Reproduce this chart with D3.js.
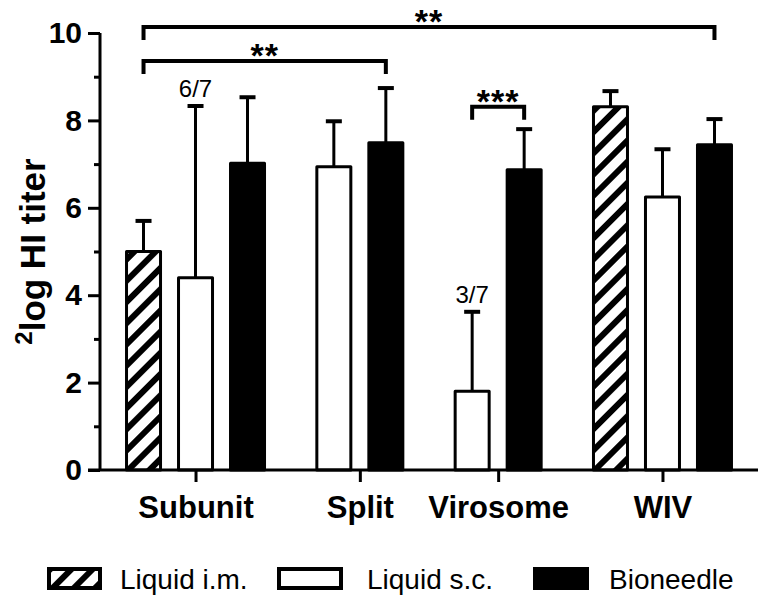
<!DOCTYPE html>
<html>
<head>
<meta charset="utf-8">
<script src="https://cdn.jsdelivr.net/npm/d3@7"></script>
<style>
  html, body { margin: 0; padding: 0; background: #fff; }
  svg { display: block; }
</style>
</head>
<body>
<svg id="chart" width="767" height="606"></svg>
<script>
// ---------------- data ----------------
const categories = ["Subunit", "Split", "Virosome", "WIV"];
const seriesNames = ["Liquid i.m.", "Liquid s.c.", "Bioneedle"];
const imMean = [5.00, null, null, 8.31];
const imSD   = [0.70, null, null, 0.36];
const scMean = [4.40, 6.94, 1.80, 6.25];
const scSD   = [3.93, 1.04, 1.82, 1.09];
const bnMean = [7.02, 7.49, 6.87, 7.44];
const bnSD   = [1.51, 1.25, 0.93, 0.59];
const yMajorTicks = [0, 2, 4, 6, 8, 10];
const yMinorTicks = [1, 3, 5, 7, 9];
const fractionLabels = [
  { cat: "Subunit", series: 1, text: "6/7" },
  { cat: "Virosome", series: 1, text: "3/7" }
];
const brackets = [
  { fromCat: "Subunit", fromSeries: 0, toCat: "WIV", toSeries: 2, y: 10.14, label: "**" },
  { fromCat: "Subunit", fromSeries: 0, toCat: "Split", toSeries: 2, y: 9.36, label: "**" },
  { fromCat: "Virosome", fromSeries: 1, toCat: "Virosome", toSeries: 2, y: 8.31, label: "***" }
];

// ---------------- layout ----------------
const FONT = "'Liberation Sans', Arial, Helvetica, sans-serif";
const svg = d3.select("#chart");
const means = [imMean, scMean, bnMean];
const sds = [imSD, scSD, bnSD];
const groupGap = 0.66;   // extra slot units between groups

const bars = [];
let run = 0;
categories.forEach((c, ci) => {
  seriesNames.forEach((s, si) => {
    if (means[si][ci] != null) {
      bars.push({ cat: c, ci, si, mean: means[si][ci], sd: sds[si][ci], slot: run + ci * groupGap });
      run++;
    }
  });
});
const lastSlot = bars[bars.length - 1].slot;
const pad = 0.837;

const x = d3.scaleLinear().domain([-pad, lastSlot + pad]).range([100, 758]);
const y = d3.scaleLinear().domain([0, 10]).range([470, 33]);
const barW = 34;

// hatch pattern
const defs = svg.append("defs");
const pat = defs.append("pattern")
  .attr("id", "hatch").attr("patternUnits", "userSpaceOnUse")
  .attr("width", 15).attr("height", 15)
  .attr("patternTransform", "rotate(45)");
pat.append("rect").attr("width", 15).attr("height", 15).attr("fill", "#fff");
pat.append("rect").attr("width", 6).attr("height", 15).attr("fill", "#000");

const fillFor = si => si === 0 ? "url(#hatch)" : (si === 1 ? "#fff" : "#000");

// ---------------- error bars ----------------
const eb = svg.append("g").attr("stroke", "#000").attr("stroke-width", 3).attr("fill", "none");
bars.forEach(b => {
  const cx = x(b.slot);
  eb.append("line").attr("x1", cx).attr("x2", cx).attr("y1", y(b.mean)).attr("y2", y(b.mean + b.sd));
  eb.append("line").attr("x1", cx - 8).attr("x2", cx + 8).attr("y1", y(b.mean + b.sd)).attr("y2", y(b.mean + b.sd))
    .attr("stroke-width", 4);
});

// ---------------- bars ----------------
svg.append("g").selectAll("rect").data(bars).join("rect")
  .attr("x", d => x(d.slot) - barW / 2)
  .attr("width", barW)
  .attr("y", d => y(d.mean))
  .attr("height", d => y(0) - y(d.mean))
  .attr("fill", d => fillFor(d.si))
  .attr("stroke", "#000")
  .attr("stroke-width", 3)
  .attr("stroke-linejoin", "round");

// ---------------- axes ----------------
const yAxis = d3.axisLeft(y).tickValues(yMajorTicks).tickSize(12).tickPadding(6).tickFormat(d3.format("d"));
const gy = svg.append("g").attr("transform", `translate(${x(-pad)},0)`).call(yAxis);
gy.select(".domain").attr("stroke-width", 3).attr("d", `M0,${y(0)}V${y(10)}`);
gy.selectAll(".tick line").attr("stroke-width", 3);
gy.selectAll(".tick text").attr("font-family", FONT).attr("font-weight", "bold").attr("font-size", 30).attr("fill", "#000");

const yMinor = d3.axisLeft(y).tickValues(yMinorTicks).tickSize(6).tickFormat("");
const gym = svg.append("g").attr("transform", `translate(${x(-pad)},0)`).call(yMinor);
gym.select(".domain").remove();
gym.selectAll(".tick line").attr("stroke-width", 3);

const groupCenters = categories.map(c => d3.mean(bars.filter(b => b.cat === c), b => b.slot));
const xAxis = d3.axisBottom(x).tickValues(groupCenters).tickSize(12).tickPadding(14)
  .tickFormat((d, i) => categories[i]);
const gx = svg.append("g").attr("transform", `translate(0,${y(0)})`).call(xAxis);
gx.select(".domain").attr("stroke-width", 3).attr("d", `M${x(-pad) - 12},0H${x(lastSlot + pad)}`);
gx.selectAll(".tick line").attr("stroke-width", 3);
gx.selectAll(".tick text").attr("font-family", FONT).attr("font-weight", "bold").attr("font-size", 31).attr("fill", "#000");

// y-axis title
const yt = svg.append("text")
  .attr("transform", `translate(45,${(y(0) + y(10)) / 2}) rotate(-90)`)
  .attr("text-anchor", "middle")
  .attr("font-family", FONT).attr("font-weight", "bold").attr("font-size", 35).attr("fill", "#000");
yt.append("tspan").attr("font-size", 24).attr("dy", -13).text("2");
yt.append("tspan").attr("dy", 13).text("log HI titer");

// ---------------- fraction labels ----------------
fractionLabels.forEach(f => {
  const b = bars.find(b => b.cat === f.cat && b.si === f.series);
  svg.append("text")
    .attr("x", x(b.slot)).attr("y", y(b.mean + b.sd) - 9)
    .attr("text-anchor", "middle")
    .attr("font-family", FONT).attr("font-size", 24).attr("fill", "#000")
    .text(f.text);
});

// ---------------- significance brackets ----------------
const bg = svg.append("g");
brackets.forEach(br => {
  const b1 = bars.find(b => b.cat === br.fromCat && b.si === br.fromSeries);
  const b2 = bars.find(b => b.cat === br.toCat && b.si === br.toSeries);
  const x1 = x(b1.slot), x2 = x(b2.slot), yy = y(br.y);
  bg.append("path")
    .attr("d", `M${x1},${yy + 13}V${yy}H${x2}V${yy + 13}`)
    .attr("fill", "none").attr("stroke", "#000").attr("stroke-width", 4);
  bg.append("text")
    .attr("x", (x1 + x2) / 2).attr("y", yy + 6)
    .attr("text-anchor", "middle")
    .attr("font-family", FONT).attr("font-weight", "bold").attr("font-size", 34)
    .attr("letter-spacing", 1).attr("fill", "#000")
    .text(br.label);
});

// ---------------- legend ----------------
const legendItems = [
  { name: seriesNames[0], si: 0, sx: 49, sw: 51, tx: 120 },
  { name: seriesNames[1], si: 1, sx: 279, sw: 62, tx: 367 },
  { name: seriesNames[2], si: 2, sx: 535, sw: 52, tx: 609 }
];
const lg = svg.append("g");
legendItems.forEach(it => {
  lg.append("rect").attr("x", it.sx).attr("y", 569).attr("width", it.sw).attr("height", 19)
    .attr("fill", fillFor(it.si)).attr("stroke", "#000").attr("stroke-width", 4);
  lg.append("text").attr("x", it.tx).attr("y", 589)
    .attr("font-family", FONT).attr("font-size", 28).attr("fill", "#000").text(it.name);
});
</script>
</body>
</html>
